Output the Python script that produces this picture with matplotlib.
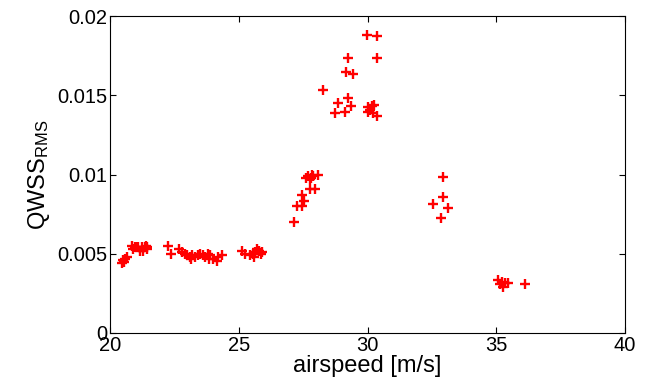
import matplotlib
matplotlib.use('Agg')
import matplotlib.pyplot as plt
import numpy as np
from matplotlib.ticker import FuncFormatter

plt.rcParams['font.family'] = ['Liberation Sans', 'DejaVu Sans']
plt.rcParams['mathtext.fontset'] = 'custom'
plt.rcParams['mathtext.rm'] = 'Liberation Sans'
plt.rcParams['mathtext.it'] = 'Liberation Sans'

speed_a = [20.45, 20.5, 20.55, 20.6, 20.65]
qwss_a = [0.0044, 0.0046, 0.0045, 0.0047, 0.0048]

speed_b = [20.85, 20.97, 21.09, 21.24, 21.36, 21.44, 21.17, 20.89, 21.0, 21.3, 21.45, 21.4]
qwss_b = [0.0055, 0.0054, 0.0054, 0.0054, 0.0054, 0.0053, 0.0052, 0.0053, 0.0054, 0.0052, 0.0054, 0.0055]

speed_c = [22.25, 22.37, 22.68, 22.8, 22.9, 23.0, 23.1, 23.2, 23.3, 23.4, 23.5, 23.6,
           23.7, 23.8, 23.9, 24.0, 24.14, 24.2, 24.35, 23.15, 23.85]
qwss_c = [0.0055, 0.0050, 0.0053, 0.0051, 0.0050, 0.0049, 0.0048, 0.0049, 0.0048, 0.0049, 0.0050, 0.0049,
          0.0048, 0.0050, 0.0049, 0.0047, 0.00455, 0.0048, 0.0049, 0.0047, 0.0047]

speed_d = [25.14, 25.24, 25.45, 25.55, 25.65, 25.7, 25.8, 25.85, 25.6, 25.9]
qwss_d = [0.0052, 0.0050, 0.0049, 0.0050, 0.0051, 0.0053, 0.0052, 0.0050, 0.0048, 0.0051]

speed_e = [27.16, 27.25, 27.44, 27.55, 27.47, 27.77, 27.96, 27.6, 27.7, 27.8, 27.9, 28.07, 27.75, 27.85]
qwss_e = [0.0070, 0.0080, 0.0080, 0.0083, 0.0087, 0.0091, 0.0091, 0.0098, 0.0099, 0.0098, 0.0099, 0.0100, 0.0097, 0.0100]

speed_f = [29.97, 30.36, 29.25, 30.36, 29.15, 29.45, 28.26, 28.87, 29.25, 29.34, 28.74, 29.13,
           30.03, 30.16, 30.25, 30.1, 30.03, 30.22, 30.36]
qwss_f = [0.0188, 0.01874, 0.01737, 0.01733, 0.01649, 0.01634, 0.01533, 0.01453, 0.01485, 0.01432, 0.01386, 0.01396,
          0.01428, 0.01434, 0.01438, 0.01407, 0.01392, 0.01386, 0.01371]

speed_g = [32.94, 32.94, 32.53, 33.13, 32.84]
qwss_g = [0.00986, 0.0086, 0.00812, 0.00791, 0.00723]

speed_h = [35.08, 35.21, 35.34, 35.25, 35.47, 35.15, 36.12]
qwss_h = [0.00334, 0.00324, 0.00313, 0.00292, 0.00317, 0.0031, 0.00309]

speed = speed_a + speed_b + speed_c + speed_d + speed_e + speed_f + speed_g + speed_h
qwss = qwss_a + qwss_b + qwss_c + qwss_d + qwss_e + qwss_f + qwss_g + qwss_h

fig = plt.figure(figsize=(6.48, 3.85), dpi=100)
ax = fig.add_axes([110/648, 52/385, 515/648, 317/385])

ax.plot(speed, qwss, '+', color='red', markersize=7, markeredgewidth=1.7)

ax.set_xlim(20, 40)
ax.set_ylim(0, 0.02)
ax.set_xticks([20, 25, 30, 35, 40])
ax.set_yticks([0, 0.005, 0.01, 0.015, 0.02])
ax.yaxis.set_major_formatter(FuncFormatter(lambda v, p: '%g' % v))
ax.tick_params(direction='in', top=True, right=True, labelsize=14.5, length=4, width=0.8)
ax.tick_params(axis='y', pad=2)
ax.tick_params(axis='x', pad=2)
for s in ax.spines.values():
    s.set_linewidth(0.8)

ax.set_xlabel('airspeed [m/s]', fontsize=17, labelpad=0)
ax.set_ylabel(r'$\mathrm{QWSS}_{\mathrm{RMS}}$', fontsize=17, labelpad=4)

fig.savefig('out.png', dpi=100)
